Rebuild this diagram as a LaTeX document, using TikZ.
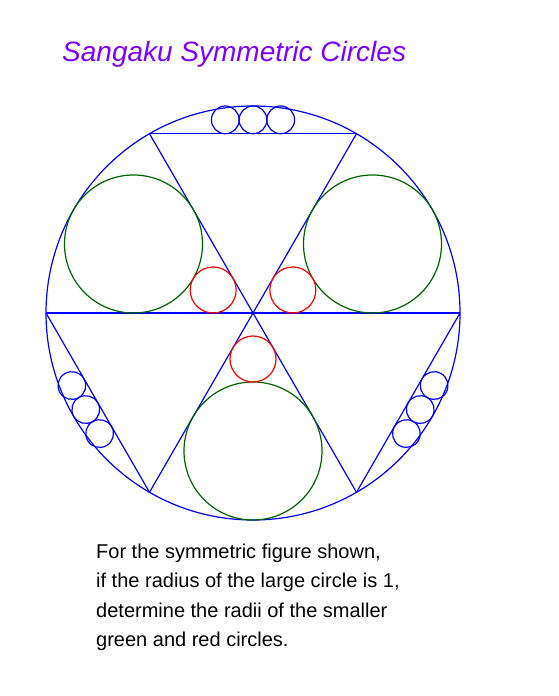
\documentclass[tikz,border=0pt]{standalone}
\usepackage{fontspec}
\setmainfont{Liberation Sans}
\definecolor{cblue}{RGB}{0,0,255}
\definecolor{cgreen}{RGB}{0,100,0}
\definecolor{cred}{RGB}{255,0,0}
\definecolor{cpurple}{RGB}{128,0,255}
\tikzset{
  bl/.style={draw=cblue, line width=1.2pt},
  gr/.style={draw=cgreen, line width=1.2pt},
  rd/.style={draw=cred, line width=1.2pt},
  titletext/.style={anchor=base west, inner sep=0pt, text=cpurple, font=\fontsize{28}{32}\selectfont\itshape},
  bodytext/.style={anchor=base west, inner sep=0pt, text=black, font=\fontsize{20}{24}\selectfont}
}
\begin{document}
\begin{tikzpicture}
\useasboundingbox[fill=white] (0,0) rectangle (558pt,696pt);
\node[titletext] (title) at (62pt,634pt) {Sangaku Symmetric Circles};
\node[bodytext] (l1) at (96pt,137.3pt) {For the symmetric figure shown,};
\node[bodytext] (l2) at (96pt,108pt) {if the radius of the large circle is 1,};
\node[bodytext] (l3) at (96pt,78.5pt) {determine the radii of the smaller};
\node[bodytext] (l4) at (96pt,49pt) {green and red circles.};
\begin{scope}[shift={(253pt,383pt)}, x=207pt, y=207pt]
  \coordinate (O) at (0,0);
  \draw[bl] (O) circle[radius=207pt];
  % hexagon vertices
  \coordinate (A0) at (0:1);
  \coordinate (A60) at (60:1);
  \coordinate (A120) at (120:1);
  \coordinate (A180) at (180:1);
  \coordinate (A240) at (240:1);
  \coordinate (A300) at (300:1);
  \draw[bl] (A180) -- (A0);
  \draw[bl] (A120) -- (A300);
  \draw[bl] (A60) -- (A240);
  \draw[bl] (A120) -- (A60);
  \draw[bl] (A180) -- (A240);
  \draw[bl] (A0) -- (A300);
  % green and red circles
  \foreach \a in {150,30,270} {
    \draw[gr] (\a:2/3) circle[radius=69pt];
    \draw[rd] (\a:2/9) circle[radius=23pt];
  }
  % small blue circles
  \pgfmathsetmacro{\rb}{(1-sqrt(3)/2)/2}
  \pgfmathsetmacro{\db}{(1+sqrt(3)/2)/2}
  \foreach \a in {0,120,240} {
    \begin{scope}[rotate=\a]
      \foreach \k in {-1,0,1} {
        \draw[bl] (2*\k*\rb,\db) circle[radius=\rb*207pt];
      }
    \end{scope}
  }
\end{scope}
\end{tikzpicture}
\end{document}
